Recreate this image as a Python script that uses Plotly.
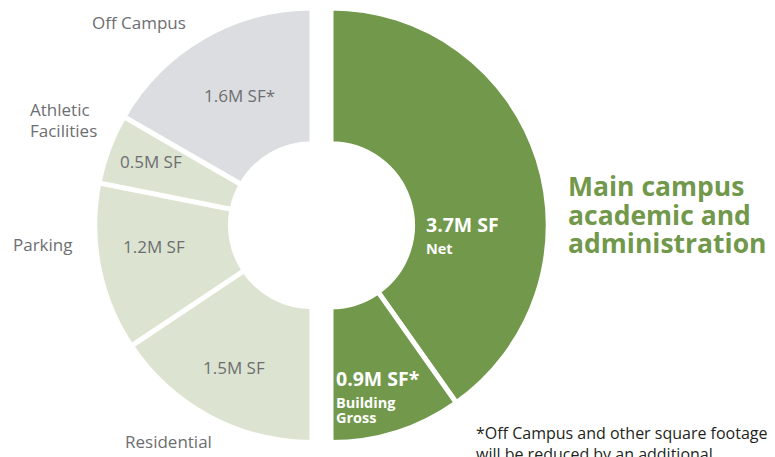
import plotly.graph_objects as go

# ---- data ----
left_labels = ["Residential", "Parking", "Athletic Facilities", "Off Campus"]
left_values = [1.5, 1.2, 0.5, 1.6]
left_text = ["1.5M SF", "1.2M SF", "0.5M SF", "1.6M SF*"]

right_labels = ["Net", "Building Gross"]
right_values = [3.7, 0.9]
right_text = ["3.7M SF", "0.9M SF*"]

title_lines = ["Main campus", "academic and", "administration"]
note_lines = ["*Off Campus and other square footage", "will be reduced by an additional"]

# ---- styles ----
W, H = 775, 457
OFF = 8  # page body margin of the html page
DARK = "#71984b"
LIGHT = "#dce4d1"
GREY = "#dcdde0"
TXT = "#6d6e71"
FONT = "Open Sans"
LW = 5

R = 217.25
HOLE = (84 - LW / 2) / R
CY = 225.25  # screen px


def clamp(v):
    return max(0.0, min(1.0, v))


def dom(cx):
    cx -= OFF
    cy = CY - OFF
    return dict(x=[clamp((cx - R) / W), clamp((cx + R) / W)],
                y=[clamp(1 - (cy + R) / H), clamp(1 - (cy - R) / H)])


fig = go.Figure()

fig.add_trace(go.Pie(
    values=left_values + [sum(left_values)],
    labels=left_labels + ["_rest_left"],
    sort=False, direction="clockwise", rotation=180, hole=HOLE,
    marker=dict(colors=[LIGHT, LIGHT, LIGHT, GREY, "rgba(0,0,0,0)"],
                line=dict(color="white", width=[LW, LW, LW, LW, 0])),
    textinfo="none", hoverinfo="skip", showlegend=False,
    domain=dom(312),
))

fig.add_trace(go.Pie(
    values=right_values + [sum(right_values)],
    labels=right_labels + ["_rest_right"],
    sort=False, direction="clockwise", rotation=0, hole=HOLE,
    marker=dict(colors=[DARK, DARK, "rgba(0,0,0,0)"],
                line=dict(color="white", width=[LW, LW, 0])),
    textinfo="none", hoverinfo="skip", showlegend=False,
    domain=dom(331),
))


def ann(text, x, y, size, color, xanchor="center", bold=False):
    fig.add_annotation(
        text=f"<b>{text}</b>" if bold else text,
        x=(x - OFF) / W, y=1 - (y - OFF) / H, xref="paper", yref="paper",
        xanchor=xanchor, yanchor="middle", showarrow=False,
        font=dict(size=size, color=color, family=FONT),
    )


# category labels outside
ann(left_labels[3], 139, 23, 17, TXT)
ann("Athletic", 28, 110, 17, TXT, xanchor="left")
ann("Facilities", 28, 130.5, 17, TXT, xanchor="left")
ann(left_labels[1], 11, 244, 17, TXT, xanchor="left")
ann(left_labels[0], 168.5, 441, 17, TXT)

# values inside left slices
ann(left_text[3], 239.5, 96, 17, TXT)
ann(left_text[2], 150.5, 161, 17, TXT)
ann(left_text[1], 153.5, 246, 17, TXT)
ann(left_text[0], 234, 367, 17, TXT)

# values inside right slices
ann(right_text[0], 424, 225, 19.5, "white", xanchor="left", bold=True)
ann("Net", 424, 248.5, 14.5, "white", xanchor="left", bold=True)
ann(right_text[1], 334, 378.5, 19.5, "white", xanchor="left", bold=True)
ann("Building", 334, 402, 14.5, "white", xanchor="left", bold=True)
ann("Gross", 334, 417.5, 14.5, "white", xanchor="left", bold=True)

# title
for i, line in enumerate(title_lines):
    ann(line, 566, 186 + 28.5 * i, 26.5, DARK, xanchor="left", bold=True)

# footnote
for i, line in enumerate(note_lines):
    ann(line, 474, 433 + 21 * i, 16, "#231f20", xanchor="left")

fig.update_layout(
    width=W, height=H, autosize=False,
    margin=dict(l=0, r=0, t=0, b=0),
    paper_bgcolor="white", plot_bgcolor="white",
    showlegend=False,
)

fig.write_html("out.html")
